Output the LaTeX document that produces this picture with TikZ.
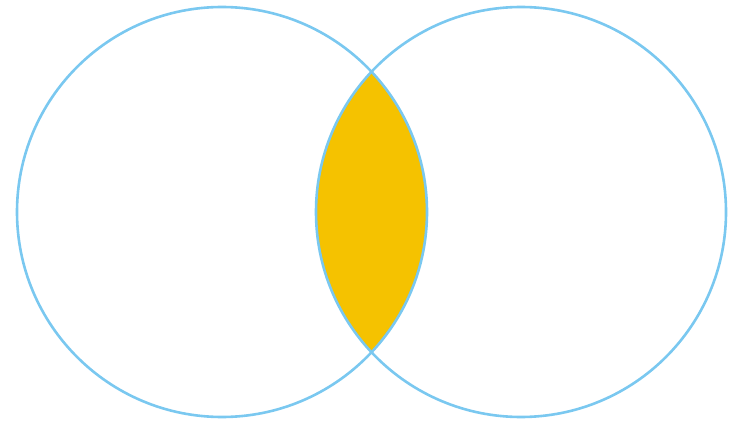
\documentclass[tikz,border=0pt]{standalone}
\usepackage{tikz}

\definecolor{ringblue}{HTML}{7AC8F0}
\definecolor{lensgold}{HTML}{F5C200}

\begin{document}
\begin{tikzpicture}[
    x=1pt,y=-1pt,
    ring/.style={draw=ringblue,line width=2.6pt},
  ]
    \useasboundingbox (0,0) rectangle (736,422);
    \coordinate (cl) at (222,212);
    \coordinate (cr) at (521,212);

    % overlap of the two sets
    \begin{scope}
      \clip (cl) circle[radius=205];
      \fill[lensgold] (cr) circle[radius=205];
    \end{scope}

    \draw[ring] (cl) circle[radius=205];
    \draw[ring] (cr) circle[radius=205];
  \end{tikzpicture}
\end{document}
